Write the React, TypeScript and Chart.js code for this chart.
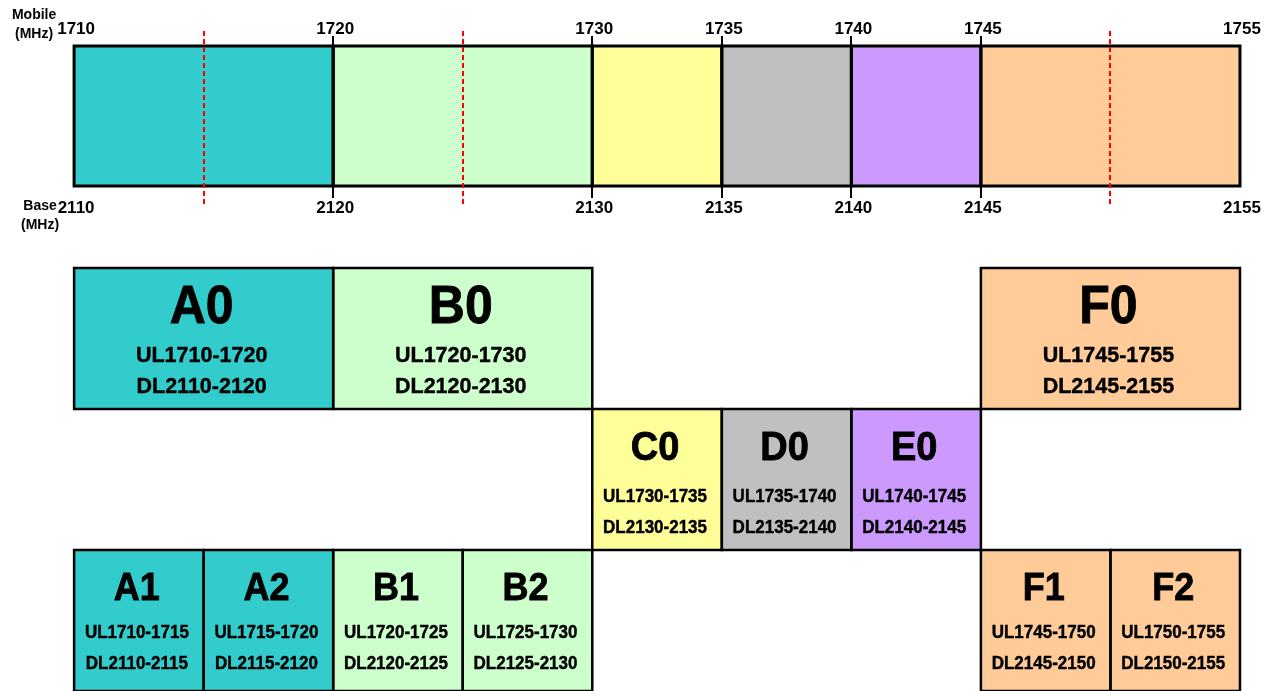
import React, { useEffect, useRef } from 'react';
import { Chart, registerables } from 'chart.js';

Chart.register(...registerables);

// ---------- data ----------
const mobileEdges = [1710, 1720, 1730, 1735, 1740, 1745, 1755];
const duplexSpacing = 400; // base (DL) = mobile (UL) + 400 MHz
const bandGroups = ['A', 'B', 'C', 'D', 'E', 'F'];
const bandStart = [1710, 1720, 1730, 1735, 1740, 1745];
const bandEnd = [1720, 1730, 1735, 1740, 1745, 1755];
const markerFreqs = [1715, 1725, 1750];

const blockRows = ['Row 1', 'Row 2', 'Row 3'];
const blockNames = ['A0', 'B0', 'F0', 'C0', 'D0', 'E0', 'A1', 'A2', 'B1', 'B2', 'F1', 'F2'];
const blockStart = [1710, 1720, 1745, 1730, 1735, 1740, 1710, 1715, 1720, 1725, 1745, 1750];
const blockEnd = [1720, 1730, 1755, 1735, 1740, 1745, 1715, 1720, 1725, 1730, 1750, 1755];
const blockRow = ['Row 1', 'Row 1', 'Row 1', 'Row 2', 'Row 2', 'Row 2', 'Row 3', 'Row 3', 'Row 3', 'Row 3', 'Row 3', 'Row 3'];

// ---------- styles ----------
const GROUP_COLORS: Record<string, string> = {
  A: '#33CCCC',
  B: '#CCFFCC',
  C: '#FFFF99',
  D: '#C0C0C0',
  E: '#CC99FF',
  F: '#FFCC99',
};
const X_MIN = 1707.14;
const X_MAX = 1756.12;
const FONT = '"Liberation Sans", Arial, Helvetica, sans-serif';
const ROW_TEXT = [
  { nameSize: 50, nameY: 36, subSize: 21.5, ulY: 86, dlY: 117 },
  { nameSize: 38, nameY: 37, subSize: 17, ulY: 86.5, dlY: 117.5 },
  { nameSize: 36, nameY: 36, subSize: 17, ulY: 82, dlY: 113 },
];
const V_STRETCH = 1.06;

function drawCapText(ctx: CanvasRenderingContext2D, text: string, cx: number, capCenterY: number, size: number) {
  ctx.save();
  ctx.font = `bold ${size}px ${FONT}`;
  ctx.textAlign = 'center';
  ctx.textBaseline = 'alphabetic';
  ctx.translate(cx, capCenterY + 0.358 * size * V_STRETCH);
  ctx.scale(1, V_STRETCH);
  ctx.fillText(text, 0, 0);
  ctx.strokeStyle = '#000';
  ctx.lineWidth = size > 30 ? 0.8 : 0.4;
  ctx.strokeText(text, 0, 0);
  ctx.restore();
}

function outlineBars(chart: any, lineWidth: number) {
  const { ctx } = chart;
  const meta = chart.getDatasetMeta(0);
  ctx.save();
  ctx.strokeStyle = '#000';
  ctx.lineWidth = lineWidth;
  meta.data.forEach((el: any) => {
    const { x, y, base, height } = el.getProps(['x', 'y', 'base', 'height'], true);
    ctx.strokeRect(Math.min(x, base), y - height / 2, Math.abs(x - base), height);
  });
  ctx.restore();
}

const bandAnnotations = {
  id: 'bandAnnotations',
  afterDatasetsDraw(chart: any) {
    const { ctx, chartArea, scales } = chart;
    const { top, bottom } = chartArea;
    const x = scales.x;
    outlineBars(chart, 3);
    ctx.save();
    // red dashed markers
    ctx.strokeStyle = '#FF0000';
    ctx.lineWidth = 2;
    ctx.setLineDash([5, 3]);
    markerFreqs.forEach((f) => {
      const px = Math.round(x.getPixelForValue(f));
      ctx.beginPath();
      ctx.moveTo(px, top - 15);
      ctx.lineTo(px, bottom + 21);
      ctx.stroke();
    });
    ctx.setLineDash([]);
    // tick marks
    ctx.strokeStyle = '#000';
    ctx.lineWidth = 2;
    mobileEdges.slice(1, -1).forEach((f) => {
      const px = Math.round(x.getPixelForValue(f));
      ctx.beginPath();
      ctx.moveTo(px, top - 10);
      ctx.lineTo(px, top);
      ctx.moveTo(px, bottom);
      ctx.lineTo(px, bottom + 12);
      ctx.stroke();
    });
    // tick labels
    ctx.fillStyle = '#000';
    ctx.font = `bold 17px ${FONT}`;
    ctx.textAlign = 'center';
    ctx.textBaseline = 'alphabetic';
    mobileEdges.forEach((f) => {
      const px = x.getPixelForValue(f) + 2;
      ctx.fillText(String(f), px, top - 12);
      ctx.fillText(String(f + duplexSpacing), px, bottom + 27);
    });
    // axis titles
    ctx.font = `bold 14px ${FONT}`;
    const lx = x.getPixelForValue(mobileEdges[0]);
    ctx.fillText('Mobile', lx - 40, top - 27);
    ctx.fillText('(MHz)', lx - 40, top - 8);
    ctx.fillText('Base', lx - 34, bottom + 24);
    ctx.fillText('(MHz)', lx - 34, bottom + 43);
    ctx.restore();
  },
};

const blockLabels = {
  id: 'blockLabels',
  afterDatasetsDraw(chart: any) {
    const { ctx } = chart;
    outlineBars(chart, 2.5);
    const meta = chart.getDatasetMeta(0);
    ctx.save();
    ctx.fillStyle = '#000';
    meta.data.forEach((el: any, i: number) => {
      const { x, y, base, height } = el.getProps(['x', 'y', 'base', 'height'], true);
      const cx = (x + base) / 2 - 2;
      const top = y - height / 2;
      const st = ROW_TEXT[blockRows.indexOf(blockRow[i])];
      drawCapText(ctx, blockNames[i], cx, top + st.nameY, st.nameSize);
      drawCapText(ctx, `UL${blockStart[i]}-${blockEnd[i]}`, cx, top + st.ulY, st.subSize);
      drawCapText(
        ctx,
        `DL${blockStart[i] + duplexSpacing}-${blockEnd[i] + duplexSpacing}`,
        cx,
        top + st.dlY,
        st.subSize
      );
    });
    ctx.restore();
  },
};

export default function App() {
  const bandRef = useRef<HTMLCanvasElement>(null);
  const blockRef = useRef<HTMLCanvasElement>(null);

  useEffect(() => {
    const band = new Chart(bandRef.current as HTMLCanvasElement, {
      type: 'bar',
      data: {
        labels: ['Band'],
        datasets: [
          {
            data: bandStart.map((s, i) => ({ x: [s, bandEnd[i]], y: 'Band' })) as any,
            backgroundColor: bandGroups.map((g) => GROUP_COLORS[g]),
            borderWidth: 0,
            borderSkipped: false,
            categoryPercentage: 1,
            barPercentage: 1,
          },
        ],
      },
      options: {
        indexAxis: 'y',
        responsive: false,
        animation: false,
        devicePixelRatio: 1,
        layout: { padding: { top: 46, bottom: 64, left: 0, right: 0 } },
        scales: {
          x: { type: 'linear', min: X_MIN, max: X_MAX, display: false },
          y: { type: 'category', display: false },
        },
        plugins: { legend: { display: false }, tooltip: { enabled: false } },
      },
      plugins: [bandAnnotations],
    });

    const blocks = new Chart(blockRef.current as HTMLCanvasElement, {
      type: 'bar',
      data: {
        labels: blockRows,
        datasets: [
          {
            data: blockStart.map((s, i) => ({ x: [s, blockEnd[i]], y: blockRow[i] })) as any,
            backgroundColor: blockNames.map((n) => GROUP_COLORS[n[0]]),
            borderWidth: 0,
            borderSkipped: false,
            categoryPercentage: 1,
            barPercentage: 1,
          },
        ],
      },
      options: {
        indexAxis: 'y',
        responsive: false,
        animation: false,
        devicePixelRatio: 1,
        layout: { padding: { top: 2, bottom: 3, left: 0, right: 0 } },
        scales: {
          x: { type: 'linear', min: X_MIN, max: X_MAX, display: false },
          y: { type: 'category', display: false },
        },
        plugins: { legend: { display: false }, tooltip: { enabled: false } },
      },
      plugins: [blockLabels],
    });

    return () => {
      band.destroy();
      blocks.destroy();
    };
  }, []);

  return (
    <div style={{ position: 'absolute', left: 0, top: 0, width: 1269, height: 691, background: '#fff', overflow: 'hidden' }}>
      <canvas ref={bandRef} width={1269} height={250} style={{ position: 'absolute', left: 0, top: 0 }} />
      <canvas ref={blockRef} width={1269} height={428} style={{ position: 'absolute', left: 0, top: 266 }} />
    </div>
  );
}
